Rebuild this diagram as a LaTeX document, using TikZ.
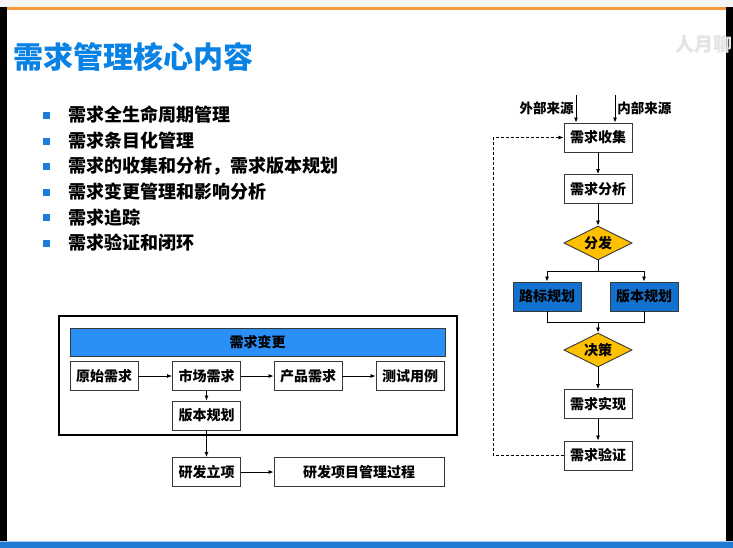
\documentclass[tikz,border=0pt]{standalone}
\usepackage{fontspec}
\setmainfont{Noto Sans CJK SC}
\usetikzlibrary{arrows.meta, positioning, shapes.geometric}
\definecolor{ctitle}{HTML}{0A82E4}
\definecolor{cbullet}{HTML}{1A7DD6}
\definecolor{cbar}{HTML}{2A8FF7}
\definecolor{cplan}{HTML}{1272CF}
\definecolor{cgold}{HTML}{FFC000}
\definecolor{corange}{HTML}{F4983A}
\definecolor{cfoot}{HTML}{1F7BD3}
\definecolor{cline}{HTML}{383838}
\tikzset{
  every picture/.style={line width=0.8pt},
  box/.style={draw=cline, fill=#1, line width=0.9pt, minimum width=68pt, minimum height=29pt, inner sep=0pt, font=\fontsize{14}{16}\selectfont\bfseries},
  box/.default=white,
  choice/.style={diamond, draw=cline, fill=cgold, line width=0.9pt, minimum width=68pt, minimum height=34pt, inner sep=0pt, aspect=2, font=\fontsize{14}{16}\selectfont\bfseries},
  arrow/.style={-{Latex[length=5pt, width=4pt]}, draw=black, line width=0.8pt},
  title/.style={font=\fontsize{30}{33}\selectfont\bfseries, text=ctitle, anchor=west, inner sep=0pt},
  item/.style={font=\fontsize{18}{20}\selectfont\bfseries, anchor=west, inner sep=0pt},
  bullet/.style={fill=cbullet, minimum size=7pt, inner sep=0pt},
  note/.style={font=\fontsize{13.5}{15}\selectfont\bfseries, inner sep=0pt},
}
\begin{document}
\begin{tikzpicture}[x=1pt, y=-1pt]
  \useasboundingbox (0,0) rectangle (733,548);
  % slide frame
  \fill[white] (0,0) rectangle (733,548);
  \fill[gray!8] (0,0) rectangle (733,7);
  \fill[corange] (0,7) rectangle (726,10);
  \fill[black] (0,7) rectangle (7,542);
  \fill[black] (726,7) rectangle (733,542);
  \node[text=gray!22, font=\fontsize{19}{21}\selectfont\bfseries, anchor=west, inner sep=0pt] (mark) at (675,44) {人月聊};
  \fill[cfoot] (0,541) rectangle (733,548);
  \fill[cfoot!40] (0,541) rectangle (733,542);

  \node[title] (head) at (13,57) {需求管理核心内容};
  \foreach \t [count=\i] in {需求全生命周期管理, 需求条目化管理, 需求的收集和分析，需求版本规划, 需求变更管理和影响分析, 需求追踪, 需求验证和闭环} {
    \node[bullet] (dot\i) at (46.5, 115.5+25.6*\i-25.6) {};
    \node[item] (item\i) at (68, 115+25.6*\i-25.6) {\t};
  }

  % change flow
  \draw[line width=2.6pt] (59,316) rectangle (457,435);
  \node[box=cbar, minimum width=375pt, minimum height=28pt] (change) at (257.5,342) {需求变更};
  \node[box] (orig) at (104,376) {原始需求};
  \node[box] (market) at (206.5,376) {市场需求};
  \node[box] (product) at (308,376) {产品需求};
  \node[box] (test) at (410,376) {测试用例};
  \node[box] (plan) at (206.5,415.5) {版本规划};
  \node[box] (approve) at (206.5,472) {研发立项};
  \node[box, minimum width=170pt] (process) at (359,472) {研发项目管理过程};
  \draw[arrow] (orig) -- (market);
  \draw[arrow] (market) -- (product);
  \draw[arrow] (product) -- (test);
  \draw[arrow] (market) -- (plan);
  \draw[arrow] (plan) -- (approve);
  \draw[arrow] (approve) -- (process);

  % collection flow
  \node[box] (collect) at (598,137.5) {需求收集};
  \node[box] (analyze) at (598,189) {需求分析};
  \node[choice] (dispatch) at (598,243) {分发};
  \node[box=cplan] (milestone) at (547,296.5) {路标规划};
  \node[box=cplan] (version) at (644,296.5) {版本规划};
  \node[choice] (decide) at (598,350) {决策};
  \node[box] (realize) at (598,404) {需求实现};
  \node[box] (verify) at (598,455.5) {需求验证};
  \coordinate (extin) at (576,95);
  \coordinate (intin) at (615,95);
  \coordinate (fork) at (598,271);
  \coordinate (merge) at (598,322);
  \node[note, anchor=east] (extlabel) at (574,108) {外部来源};
  \node[note, anchor=west] (intlabel) at (617,108) {内部来源};
  \draw[arrow] (extin) -- (extin |- collect.north);
  \draw[arrow] (intin) -- (intin |- collect.north);
  \draw[arrow] (collect) -- (analyze);
  \draw[arrow] (analyze) -- (dispatch);
  \draw (dispatch.south) -- (fork);
  \draw[arrow] (fork) -| (milestone.north);
  \draw[arrow] (fork) -| (version.north);
  \draw (milestone.south) |- (merge);
  \draw (version.south) |- (merge);
  \draw[arrow] (merge) -- (decide);
  \draw[arrow] (decide) -- (realize);
  \draw[arrow] (realize) -- (verify);
  \draw[arrow, dashed, dash pattern=on 3pt off 2pt] (verify.west) -- ++(-70,0) |- (collect.west);
\end{tikzpicture}
\end{document}
